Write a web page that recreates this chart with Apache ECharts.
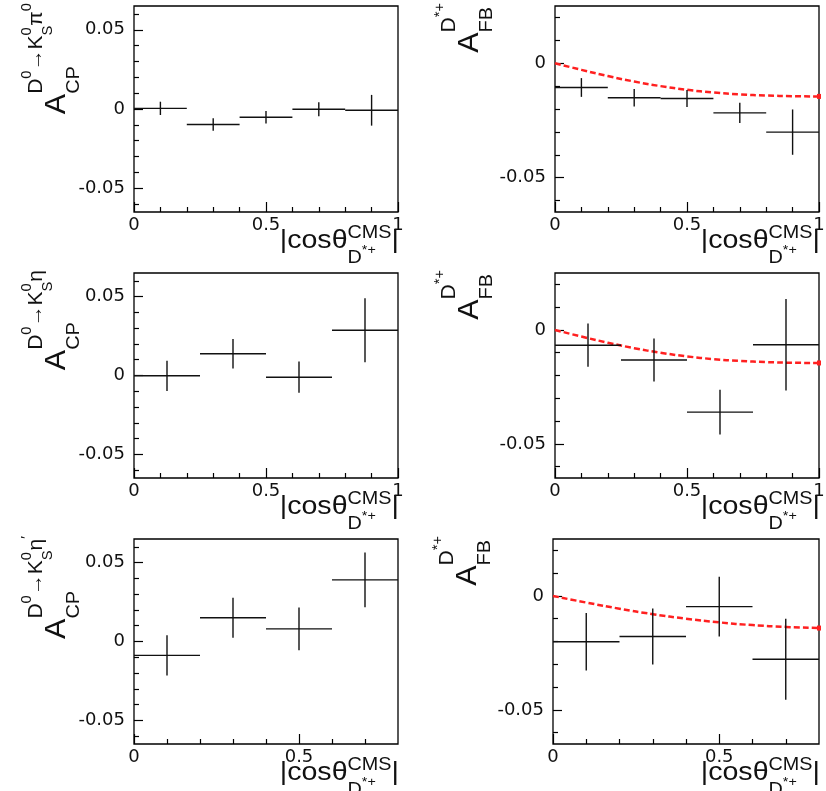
<!DOCTYPE html>
<html>
<head>
<meta charset="utf-8">
<script src="https://cdn.jsdelivr.net/npm/echarts@6/dist/echarts.min.js"></script>
<style>
  html, body { margin: 0; padding: 0; background: #fff; }
  #chart { width: 826px; height: 791px; }
</style>
</head>
<body>
<div id="chart"></div>
<script>
// ---- measured asymmetries, binned in |cos theta*| ----
// D0 -> KS pi0 : five bins of width 0.2
const kspi0Centers    = [0.1, 0.3, 0.5, 0.7, 0.9];
const kspi0HalfWidths = [0.1, 0.1, 0.1, 0.1, 0.1];
const kspi0Acp        = [0.0004, -0.0098, -0.0052, -0.0002, -0.0008];
const kspi0AcpErr     = [0.0042, 0.0040, 0.0040, 0.0044, 0.0097];
const kspi0Afb        = [-0.0106, -0.0151, -0.0154, -0.0217, -0.0301];
const kspi0AfbErr     = [0.0041, 0.0038, 0.0037, 0.0044, 0.0099];

// D0 -> KS eta : four bins of width 0.25
const ksetaCenters    = [0.125, 0.375, 0.625, 0.875];
const ksetaHalfWidths = [0.125, 0.125, 0.125, 0.125];
const ksetaAcp        = [-0.0002, 0.0138, -0.0011, 0.0287];
const ksetaAcpErr     = [0.0096, 0.0093, 0.0099, 0.0203];
const ksetaAfb        = [-0.0067, -0.0132, -0.0361, -0.0065];
const ksetaAfbErr     = [0.0095, 0.0094, 0.0098, 0.0201];

// D0 -> KS eta' : four bins of width 0.2 (|cos| < 0.8)
const ksetapCenters    = [0.1, 0.3, 0.5, 0.7];
const ksetapHalfWidths = [0.1, 0.1, 0.1, 0.1];
const ksetapAcp        = [-0.0088, 0.0151, 0.0080, 0.0391];
const ksetapAcpErr     = [0.0127, 0.0127, 0.0136, 0.0174];
const ksetapAfb        = [-0.0201, -0.0178, -0.0047, -0.0278];
const ksetapAfbErr     = [0.0126, 0.0123, 0.0131, 0.0178];

// Standard-model expectation for A_FB versus |cos theta*| (dashed red curve)
const smCos = [0, 0.1, 0.2, 0.3, 0.4, 0.5, 0.6, 0.7, 0.8, 0.9, 1.0];
const smAfb = [0, -0.0029, -0.0056, -0.0080, -0.0100, -0.0116, -0.0128, -0.0136, -0.0141, -0.0144, -0.0145];

// ---- axis ticks ----
const cpRange     = [-0.065, 0.065];
const fbRange     = [-0.065, 0.025];
const cpMajor     = [-0.05, 0, 0.05];
const cpMinor     = [-0.06, -0.04, -0.03, -0.02, -0.01, 0.01, 0.02, 0.03, 0.04, 0.06];
const fbMajor     = [-0.05, 0];
const fbMinor     = [-0.06, -0.04, -0.03, -0.02, -0.01, 0.01, 0.02];
const cosMajorA   = [0, 0.5, 1];
const cosMinorA   = [0.1, 0.2, 0.3, 0.4, 0.6, 0.7, 0.8, 0.9];
const cosMajorB   = [0, 0.5];
const cosMinorB   = [0.1, 0.2, 0.3, 0.4, 0.6, 0.7];

// ---- panels, row by row ----
const panels = [
  { centers: kspi0Centers,  half: kspi0HalfWidths,  val: kspi0Acp,  err: kspi0AcpErr,  kind: 'cp', xMax: 1.0, final: 'pi0' },
  { centers: kspi0Centers,  half: kspi0HalfWidths,  val: kspi0Afb,  err: kspi0AfbErr,  kind: 'fb', xMax: 1.0 },
  { centers: ksetaCenters,  half: ksetaHalfWidths,  val: ksetaAcp,  err: ksetaAcpErr,  kind: 'cp', xMax: 1.0, final: 'eta' },
  { centers: ksetaCenters,  half: ksetaHalfWidths,  val: ksetaAfb,  err: ksetaAfbErr,  kind: 'fb', xMax: 1.0 },
  { centers: ksetapCenters, half: ksetapHalfWidths, val: ksetapAcp, err: ksetapAcpErr, kind: 'cp', xMax: 0.8, final: 'etap' },
  { centers: ksetapCenters, half: ksetapHalfWidths, val: ksetapAfb, err: ksetapAfbErr, kind: 'fb', xMax: 0.8 }
];

// frame rectangles of the six pads
const frames = [
  { left: 134, top: 6,   width: 264, height: 206 },
  { left: 555, top: 6,   width: 264, height: 206 },
  { left: 134, top: 273, width: 264, height: 205 },
  { left: 555, top: 273, width: 264, height: 205 },
  { left: 134, top: 539, width: 264, height: 205 },
  { left: 553, top: 539, width: 266, height: 205 }
];

const INK = '#111';
const TICK_FONT = '"DejaVu Sans", sans-serif';
const TITLE_FONT = '"Liberation Sans", Arial, sans-serif';

// error-bar cross: horizontal line over the bin, vertical line over +-err
function renderErrorBar(params, api) {
  const x = api.value(0), y = api.value(1), e = api.value(2), h = api.value(3);
  const l = api.coord([x - h, y]), r = api.coord([x + h, y]);
  const t = api.coord([x, y + e]), b = api.coord([x, y - e]);
  const style = { stroke: INK, lineWidth: 1.4, fill: null };
  return {
    type: 'group',
    children: [
      { type: 'line', shape: { x1: l[0], y1: l[1], x2: r[0], y2: r[1] }, style: style },
      { type: 'line', shape: { x1: t[0], y1: t[1], x2: b[0], y2: b[1] }, style: style }
    ]
  };
}

// ---- TLatex-like title layout built from text runs ----
const measureCtx = document.createElement('canvas').getContext('2d');
function runWidth(t, size, sx) {
  measureCtx.font = size + 'px ' + TITLE_FONT;
  return measureCtx.measureText(t).width * sx;
}
function layoutRuns(runs, sx) {
  const placed = [];
  runs.forEach(function (r, i) {
    let x0;
    if (r.with !== undefined) x0 = placed[r.with].x0;
    else if (r.after) x0 = Math.max.apply(null, r.after.map(function (k) { return placed[k].x1; }));
    else x0 = i ? placed[i - 1].x1 : 0;
    x0 += (r.gap || 0);
    placed.push({ x0: x0, x1: x0 + runWidth(r.t, r.size, sx), r: r });
  });
  const total = Math.max.apply(null, placed.map(function (p) { return p.x1; }));
  const nodes = placed.map(function (p) {
    return {
      type: 'text',
      x: p.x0,
      y: p.r.dy - 0.3465 * p.r.size,
      scaleX: sx,
      silent: true,
      style: {
        text: p.r.t, fontFamily: TITLE_FONT, fontSize: p.r.size,
        fill: INK, align: 'left', verticalAlign: 'middle'
      }
    };
  });
  return { nodes: nodes, total: total };
}

function acpRuns(final) {
  const runs = [
    { t: 'A', size: 29, dy: 0 },                 // 0
    { t: 'CP', size: 19, dy: 13 },               // 1
    { t: 'D', size: 20, dy: -24, with: 1 },      // 2
    { t: '0', size: 14, dy: -35 },               // 3
    { t: '\u2192', size: 20, dy: -24 },          // 4
    { t: 'K', size: 20, dy: -24 },               // 5
    { t: '0', size: 14, dy: -35 },               // 6
    { t: 'S', size: 14, dy: -14, with: 6 }       // 7
  ];
  if (final === 'pi0') {
    runs.push({ t: '\u03c0', size: 20, dy: -24, after: [6, 7] });
    runs.push({ t: '0', size: 14, dy: -35 });
  } else if (final === 'eta') {
    runs.push({ t: '\u03b7', size: 20, dy: -24, after: [6, 7] });
  } else {
    runs.push({ t: '\u03b7', size: 20, dy: -24, after: [6, 7] });
    runs.push({ t: '\u2032', size: 14, dy: -35 });
  }
  return runs;
}
const afbRuns = [
  { t: 'A', size: 29, dy: 0 },
  { t: 'FB', size: 19, dy: 13 },
  { t: 'D', size: 20, dy: -24, with: 1 },
  { t: '*+', size: 14, dy: -35 }
];
const cosRuns = [
  { t: '|cos\u03b8', size: 26, dy: 0 },         // 0
  { t: 'CMS', size: 18, dy: -11 },              // 1
  { t: 'D', size: 18, dy: 14, with: 1 },        // 2
  { t: '*+', size: 13, dy: 5 },                 // 3
  { t: '|', size: 26, dy: 0, after: [1, 3] }    // 4
];

// ---- assemble the option ----
const grids = [], xAxes = [], yAxes = [], series = [], graphics = [];

panels.forEach(function (p, i) {
  const f = frames[i];
  grids.push({
    left: f.left, top: f.top, width: f.width, height: f.height,
    show: true, borderColor: '#000', borderWidth: 1.3,
    backgroundColor: 'rgba(0,0,0,0)', containLabel: false, outerBoundsMode: 'none'
  });

  const yr = p.kind === 'cp' ? cpRange : fbRange;
  const yMajor = p.kind === 'cp' ? cpMajor : fbMajor;
  const yMinor = p.kind === 'cp' ? cpMinor : fbMinor;
  const xMajor = p.xMax === 1 ? cosMajorA : cosMajorB;
  const xMinor = p.xMax === 1 ? cosMinorA : cosMinorB;

  const common = { gridIndex: i, type: 'value', splitLine: { show: false }, axisLine: { show: false, onZero: false } };
  const tickLine = { color: '#000', width: 1.2 };
  xAxes.push(Object.assign({}, common, {
    min: 0, max: p.xMax, position: 'bottom',
    axisTick: { show: true, inside: true, length: 10, customValues: xMajor, lineStyle: tickLine },
    axisLabel: { show: true, customValues: xMajor, margin: 4, fontFamily: TICK_FONT, fontSize: 18, color: INK,
                 formatter: function (v) { return String(+v.toFixed(2)); } }
  }));
  xAxes.push(Object.assign({}, common, {
    min: 0, max: p.xMax, position: 'bottom',
    axisTick: { show: true, inside: true, length: 5, customValues: xMinor, lineStyle: tickLine },
    axisLabel: { show: false }
  }));
  yAxes.push(Object.assign({}, common, {
    min: yr[0], max: yr[1], position: 'left',
    axisTick: { show: true, inside: true, length: 9, customValues: yMajor, lineStyle: tickLine },
    axisLabel: { show: true, customValues: yMajor, margin: 9, fontFamily: TICK_FONT, fontSize: 18, color: INK,
                 formatter: function (v) { return String(+v.toFixed(3)); } }
  }));
  yAxes.push(Object.assign({}, common, {
    min: yr[0], max: yr[1], position: 'left',
    axisTick: { show: true, inside: true, length: 5, customValues: yMinor, lineStyle: tickLine },
    axisLabel: { show: false }
  }));

  const ax = 2 * i;
  if (p.kind === 'fb') {
    const pts = [];
    smCos.forEach(function (c, k) { if (c <= p.xMax + 1e-9) pts.push([c, smAfb[k]]); });
    const last = pts.pop();
    pts.push({ value: last, symbol: 'rect', symbolSize: [4, 5], itemStyle: { color: '#ff2020' } });
    series.push({
      type: 'line', xAxisIndex: ax, yAxisIndex: ax, data: pts, smooth: true,
      symbol: 'none', showSymbol: true, silent: true, z: 3,
      lineStyle: { color: '#ff2020', width: 2.5, type: [6, 3] }
    });
  }
  series.push({
    type: 'custom', xAxisIndex: ax, yAxisIndex: ax, renderItem: renderErrorBar, silent: true, z: 4,
    data: p.centers.map(function (c, k) { return [c, p.val[k], p.err[k], p.half[k]]; })
  });

  // axis titles
  const yLab = layoutRuns(p.kind === 'cp' ? acpRuns(p.final) : afbRuns, 1.05);
  const baseX = p.kind === 'cp' ? f.left - 67 : f.left - 75;
  graphics.push({
    type: 'group', x: baseX, y: f.top - 3 + yLab.total, rotation: Math.PI / 2,
    children: yLab.nodes, silent: true
  });
  const xLab = layoutRuns(cosRuns, 1.1);
  graphics.push({
    type: 'group', x: f.left + f.width - xLab.total + 1, y: f.top + f.height + 38,
    children: xLab.nodes, silent: true
  });
});

const chart = echarts.init(document.getElementById('chart'), null, { renderer: 'canvas', width: 826, height: 791 });
chart.setOption({
  animation: false,
  backgroundColor: '#fff',
  grid: grids,
  xAxis: xAxes,
  yAxis: yAxes,
  series: series,
  graphic: graphics
});
</script>
</body>
</html>
